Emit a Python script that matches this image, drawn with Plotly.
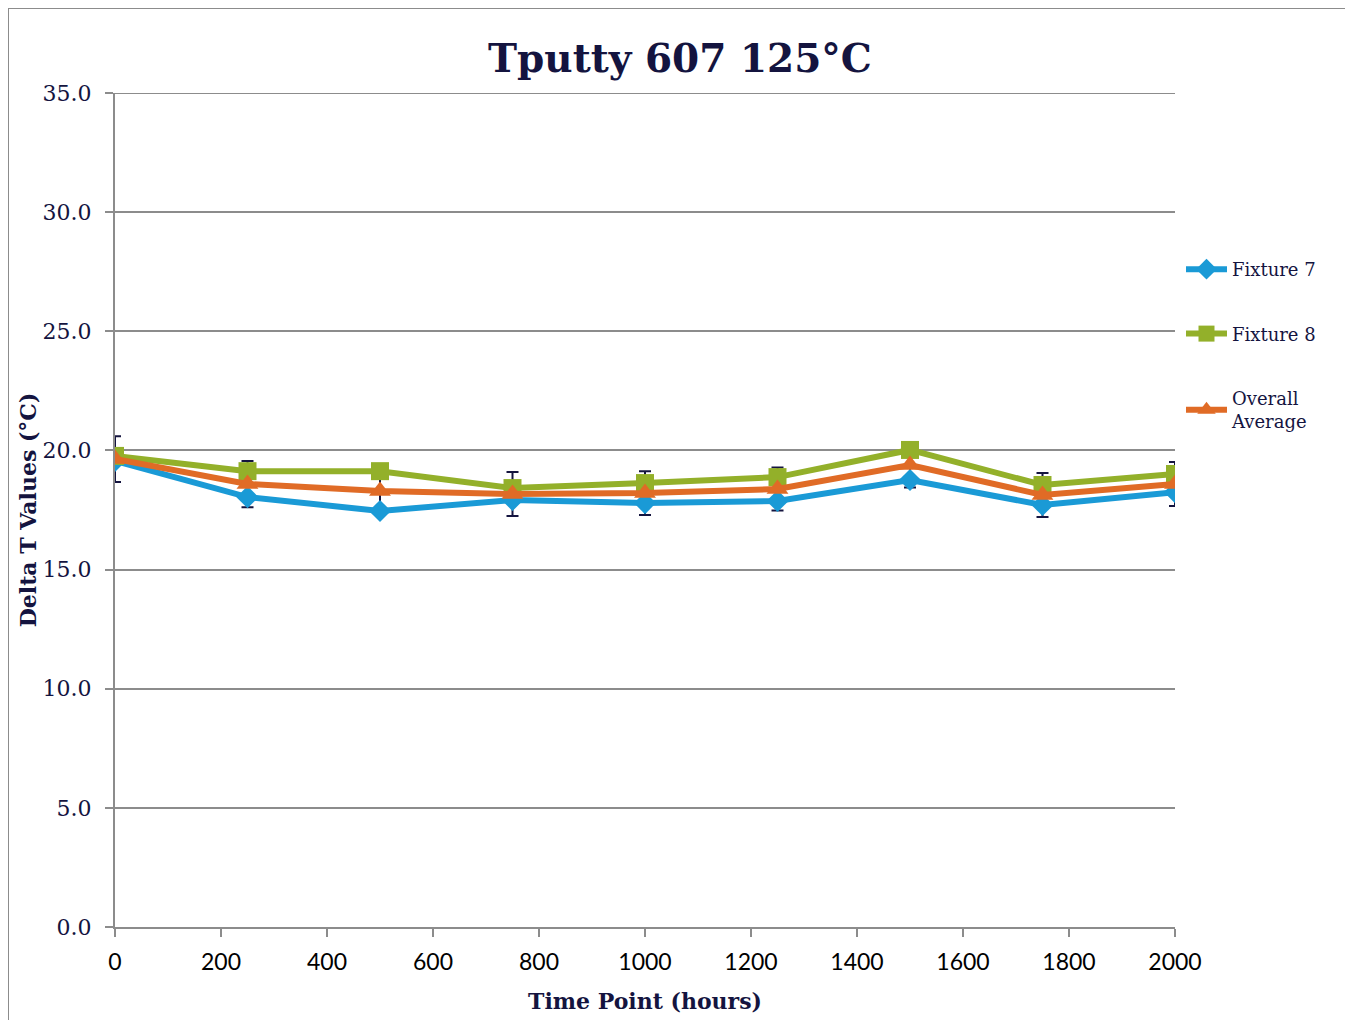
import plotly.graph_objects as go

hours = [0, 250, 500, 750, 1000, 1250, 1500, 1750, 2000]
fixture7 = [19.56, 18.04, 17.46, 17.92, 17.79, 17.88, 18.76, 17.71, 18.25]
fixture8 = [19.77, 19.13, 19.13, 18.42, 18.63, 18.88, 20.02, 18.55, 19.01]
overall = [19.64, 18.59, 18.30, 18.17, 18.21, 18.38, 19.39, 18.13, 18.59]
overall_err = [0.96, 0.97, 0.93, 0.92, 0.92, 0.90, 0.95, 0.92, 0.92]

y_ticks = [0, 5, 10, 15, 20, 25, 30, 35]
x_ticks = [0, 200, 400, 600, 800, 1000, 1200, 1400, 1600, 1800, 2000]

NAVY = "#14143f"
SERIF = "DejaVu Serif"
BLUE = "#1a9ad6"
GREEN = "#93b02a"
ORANGE = "#e06b26"
GRAY = "#8c8c8c"

OFF = 8  # page body margin
W, H = 1353 - OFF, 1020 - OFF
# plot area in screen pixels
L, R, T, B = 115, 1175, 93, 927
pw, ph = R - L, B - T


def px_x(p):
    return (p - L) / pw


def px_y(p):
    return (B - p) / ph


def fig_y(p):
    return 1 - (p - OFF) / H


def fig_x(p):
    return (p - OFF) / W


fig = go.Figure()

# error bars drawn first (behind series)
fig.add_trace(go.Scatter(
    x=hours, y=overall, mode="markers",
    marker=dict(size=1, color="rgba(0,0,0,0)"),
    error_y=dict(type="data", array=overall_err, visible=True,
                 color=NAVY, thickness=2, width=6),
    showlegend=False, hoverinfo="skip"))

fig.add_trace(go.Scatter(
    x=hours, y=fixture7, mode="lines+markers", name="Fixture 7",
    line=dict(color=BLUE, width=6),
    marker=dict(symbol="diamond", size=17, color=BLUE),
    legendgroup="a"))
fig.add_trace(go.Scatter(
    x=hours, y=fixture8, mode="lines+markers", name="Fixture 8",
    line=dict(color=GREEN, width=6),
    marker=dict(symbol="square", size=18, color=GREEN),
    legendgroup="b"))
fig.add_trace(go.Scatter(
    x=hours, y=overall, mode="lines+markers", name="Overall<br>Average",
    line=dict(color=ORANGE, width=6),
    marker=dict(symbol="triangle-up", size=19, color=ORANGE),
    legendgroup="c"))

fig.update_layout(
    width=W, height=H,
    margin=dict(l=L - OFF, r=W + OFF - R, t=T - OFF, b=H + OFF - B, autoexpand=False),
    paper_bgcolor="white", plot_bgcolor="white",
    title=dict(text="<b>Tputty 607 125°C</b>", x=fig_x((488 + 872) / 2), xanchor="center",
               y=fig_y(58), yanchor="middle",
               font=dict(family=SERIF, size=39, color=NAVY)),
    xaxis=dict(range=[0, 2000], tickvals=x_ticks, ticktext=[str(v) for v in x_ticks],
               showgrid=False, zeroline=False, showline=True, linecolor=GRAY, linewidth=2,
               ticks="outside", ticklen=8, tickcolor=GRAY, tickwidth=2,
               ticklabelstandoff=5,
               tickfont=dict(family="Lato", size=23, color="black"),
               title=dict(text="<b>Time Point (hours)</b>", standoff=20,
                          font=dict(family=SERIF, size=22, color=NAVY))),
    yaxis=dict(range=[0, 35], tickvals=y_ticks, ticktext=[f"{v:.1f}" for v in y_ticks],
               showgrid=True, gridcolor=GRAY, gridwidth=2, zeroline=False,
               showline=True, linecolor=GRAY, linewidth=2,
               ticks="outside", ticklen=8, tickcolor=GRAY, tickwidth=2,
               ticklabelstandoff=9,
               tickfont=dict(family=SERIF, size=22, color=NAVY),
               title=dict(text="<b>Delta T Values (°C)</b>", standoff=0,
                          font=dict(family=SERIF, size=22, color=NAVY))),
    legend=dict(x=1.0 + 6 / pw, xanchor="left", y=px_y(251), yanchor="top",
                font=dict(family=SERIF, size=18, color=NAVY), itemwidth=41,
                tracegroupgap=38, bgcolor="rgba(0,0,0,0)"),
    showlegend=True,
)

# top gridline at the range edge
fig.add_shape(type="line", xref="paper", yref="y", x0=0, x1=1,
              y0=y_ticks[-1], y1=y_ticks[-1], line=dict(color=GRAY, width=2), layer="below")

# outer chart border
fig.add_shape(type="rect", xref="paper", yref="paper",
              x0=px_x(8), x1=px_x(1346), y0=px_y(1030), y1=px_y(8),
              line=dict(color=GRAY, width=2), fillcolor="rgba(0,0,0,0)", layer="below")

fig.write_html("out.html")
